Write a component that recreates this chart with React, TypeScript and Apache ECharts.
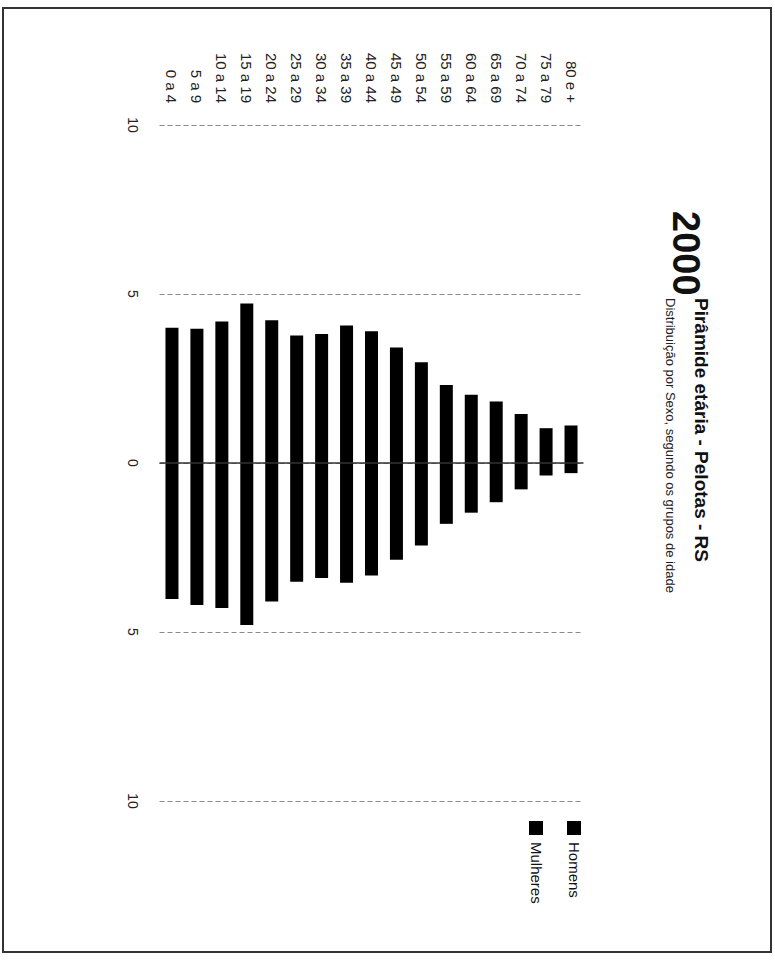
import React, { useEffect, useRef } from "react";
import * as echarts from "echarts";

const categories = [
  "0 a 4", "5 a 9", "10 a 14", "15 a 19", "20 a 24", "25 a 29", "30 a 34", "35 a 39",
  "40 a 44", "45 a 49", "50 a 54", "55 a 59", "60 a 64", "65 a 69", "70 a 74", "75 a 79", "80 e +",
];
// upper bars (percent of population)
const mulheres = [4.0, 3.97, 4.19, 4.72, 4.22, 3.77, 3.82, 4.07, 3.9, 3.42, 2.98, 2.31, 2.02, 1.82, 1.45, 1.03, 1.11];
// lower bars (percent of population, drawn downward)
const homens = [4.02, 4.2, 4.29, 4.79, 4.1, 3.51, 3.4, 3.54, 3.33, 2.86, 2.44, 1.8, 1.47, 1.16, 0.78, 0.37, 0.3];

const valueMin = -10;
const valueMax = 10;
const valueInterval = 5;

const titleYear = "2000";
const titleText = "Pirâmide etária - Pelotas - RS";
const subtitleText = "Distribuição por Sexo, segundo os grupos de idade";
const legendNames = ["Homens", "Mulheres"];

const FONT = "'Liberation Sans', Arial, sans-serif";
const ROT = -Math.PI / 2;

export default function App() {
  const ref = useRef<HTMLDivElement>(null);

  useEffect(() => {
    if (!ref.current) return;
    const chart = echarts.init(ref.current, undefined, { renderer: "svg" });

    const option = {
      animation: false,
      backgroundColor: "#ffffff",
      grid: { left: 159.5, right: 191.5, top: 125, bottom: 160, containLabel: false },
      xAxis: {
        type: "category",
        position: "top",
        data: categories,
        boundaryGap: true,
        axisLine: { show: false },
        axisTick: { show: false },
        splitLine: { show: false },
        axisLabel: {
          interval: 0,
          rotate: -90,
          margin: 22,
          fontSize: 15,
          fontFamily: FONT,
          color: "#222",
        },
      },
      yAxis: {
        type: "value",
        min: valueMin,
        max: valueMax,
        interval: valueInterval,
        axisLine: { show: false },
        axisTick: { show: false },
        splitLine: {
          show: true,
          lineStyle: { color: "#8a8a8a", type: [5, 3], width: 1.2 },
        },
        axisLabel: {
          rotate: -90,
          margin: 20,
          fontSize: 14,
          fontFamily: FONT,
          color: "#222",
          formatter: (v: number) => String(Math.abs(v)),
        },
      },
      series: [
        {
          name: legendNames[1],
          type: "bar",
          data: mulheres,
          barWidth: 13,
          barGap: "-100%",
          itemStyle: { color: "#000000" },
          markLine: {
            silent: true,
            symbol: "none",
            label: { show: false },
            lineStyle: { color: "#333", type: "solid", width: 1.5 },
            data: [{ yAxis: 0 }],
          },
        },
        {
          name: legendNames[0],
          type: "bar",
          data: homens.map((v) => -v),
          barWidth: 13,
          barGap: "-100%",
          itemStyle: { color: "#000000" },
        },
      ],
      graphic: [
        {
          type: "rect",
          shape: { x: 3, y: 8, width: 768, height: 944 },
          style: { fill: "none", stroke: "#333", lineWidth: 2 },
          silent: true,
        },
        {
          type: "text",
          x: 686,
          y: 211,
          rotation: ROT,
          style: {
            text: titleYear,
            fontSize: 38,
            fontWeight: "bold",
            fontFamily: FONT,
            fill: "#111",
            align: "left",
            verticalAlign: "middle",
          },
        },
        {
          type: "text",
          x: 701,
          y: 298,
          rotation: ROT,
          style: {
            text: titleText,
            fontSize: 19,
            fontWeight: "bold",
            fontFamily: FONT,
            fill: "#111",
            align: "left",
            verticalAlign: "middle",
          },
        },
        {
          type: "text",
          x: 670,
          y: 298,
          rotation: ROT,
          style: {
            text: subtitleText,
            fontSize: 13,
            fontFamily: FONT,
            fill: "#222",
            align: "left",
            verticalAlign: "middle",
          },
        },
        {
          type: "rect",
          shape: { x: 567, y: 821, width: 14, height: 14 },
          style: { fill: "#000" },
        },
        {
          type: "text",
          x: 574,
          y: 842,
          rotation: ROT,
          style: {
            text: legendNames[0],
            fontSize: 15,
            fontFamily: FONT,
            fill: "#111",
            align: "left",
            verticalAlign: "middle",
          },
        },
        {
          type: "rect",
          shape: { x: 529, y: 821, width: 14, height: 14 },
          style: { fill: "#000" },
        },
        {
          type: "text",
          x: 536,
          y: 842,
          rotation: ROT,
          style: {
            text: legendNames[1],
            fontSize: 15,
            fontFamily: FONT,
            fill: "#111",
            align: "left",
            verticalAlign: "middle",
          },
        },
      ],
    };

    chart.setOption(option as any);
    return () => {
      chart.dispose();
    };
  }, []);

  return (
    <div
      ref={ref}
      style={{ position: "fixed", left: 0, top: 0, width: 775, height: 961, background: "#fff" }}
    />
  );
}
